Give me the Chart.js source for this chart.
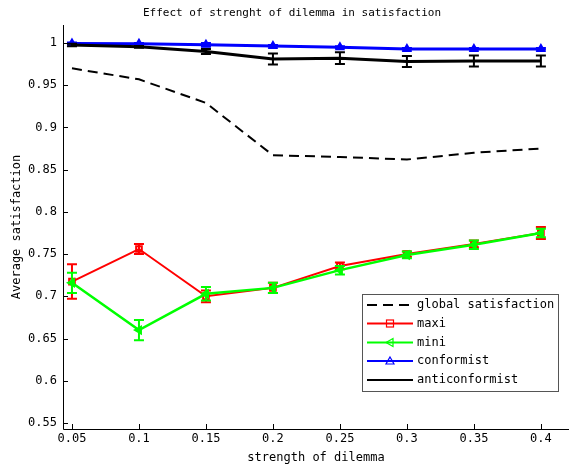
<!DOCTYPE html>
<html>
<head>
<meta charset="utf-8">
<script src="https://cdn.jsdelivr.net/npm/chart.js@4/dist/chart.umd.min.js"></script>
<style>
html,body{margin:0;padding:0;background:#fff;}
canvas{display:block;}
</style>
</head>
<body>
<canvas id="c" width="569" height="466"></canvas>
<script>
const X_VALUES = [0.05, 0.1, 0.15, 0.2, 0.25, 0.3, 0.35, 0.4];
const X_TICKS = [0.05, 0.1, 0.15, 0.2, 0.25, 0.3, 0.35, 0.4];
const Y_TICKS = [0.55, 0.6, 0.65, 0.7, 0.75, 0.8, 0.85, 0.9, 0.95, 1];

const GLOBAL_SAT = [0.970, 0.957, 0.929, 0.867, 0.865, 0.862, 0.870, 0.875];
const MAXI = [0.7175, 0.756, 0.700, 0.710, 0.736, 0.750, 0.762, 0.775];
const MAXI_ERR = [0.0205, 0.006, 0.007, 0.006, 0.004, 0.003, 0.004, 0.007];
const MINI = [0.716, 0.660, 0.703, 0.710, 0.731, 0.749, 0.761, 0.775];
const MINI_ERR = [0.012, 0.012, 0.008, 0.006, 0.005, 0.004, 0.005, 0.005];
const CONFORMIST = [0.9995, 0.999, 0.998, 0.9965, 0.995, 0.993, 0.993, 0.993];
const CONFORMIST_ERR = [0.001, 0.001, 0.002, 0.001, 0.001, 0.001, 0.001, 0.001];
const ANTICONFORMIST = [0.9975, 0.9955, 0.990, 0.981, 0.982, 0.978, 0.9787, 0.9787];
const ANTICONFORMIST_ERR = [0.0015, 0.001, 0.003, 0.0065, 0.007, 0.0065, 0.0065, 0.0065];

const TITLE = 'Effect of strenght of dilemma in satisfaction';
const X_TITLE = 'strength of dilemma';
const Y_TITLE = 'Average satisfaction';

const FONT = '"DejaVu Sans Mono", "Liberation Mono", monospace';

function pts(vals){ return X_VALUES.map((x,i)=>({x:x, y:vals[i]})); }

const datasets = [
  {label:'global satisfaction', data:pts(GLOBAL_SAT), borderColor:'#000', borderWidth:2, borderDash:[10,6], pointRadius:0, order:4, legendMarker:null},
  {label:'maxi', data:pts(MAXI), errors:MAXI_ERR, borderColor:'#ff0000', borderWidth:2, pointStyle:'rect', pointRadius:4, pointBorderWidth:2, pointBackgroundColor:'rgba(0,0,0,0)', pointBorderColor:'#ff0000', order:3, legendMarker:'rect'},
  {label:'mini', data:pts(MINI), errors:MINI_ERR, borderColor:'#00ff00', borderWidth:2.5, pointStyle:'triangle', rotation:-90, pointRadius:4, pointBorderWidth:2, pointBackgroundColor:'#00ff00', pointBorderColor:'#00ff00', order:2, legendMarker:'triangleLeft'},
  {label:'conformist', data:pts(CONFORMIST), errors:CONFORMIST_ERR, borderColor:'#0000ff', borderWidth:3, pointStyle:'triangle', pointRadius:4, pointBorderWidth:2, pointBackgroundColor:'#0000ff', pointBorderColor:'#0000ff', order:1, legendMarker:'triangle'},
  {label:'anticonformist', data:pts(ANTICONFORMIST), errors:ANTICONFORMIST_ERR, borderColor:'#000', borderWidth:3, pointRadius:0, order:0, legendMarker:null}
];

const errorBars = {
  id:'errorBars',
  afterDatasetDraw(chart, args){
    const ds = chart.data.datasets[args.index];
    if(!ds.errors) return;
    const ctx = chart.ctx, xs = chart.scales.x, ys = chart.scales.y;
    ctx.save();
    ctx.strokeStyle = ds.borderColor;
    ctx.lineWidth = 2;
    ds.data.forEach((p,i)=>{
      const e = ds.errors[i];
      const px = xs.getPixelForValue(p.x);
      const y1 = ys.getPixelForValue(p.y - e), y2 = ys.getPixelForValue(p.y + e);
      ctx.beginPath();
      ctx.moveTo(px, y1); ctx.lineTo(px, y2);
      ctx.moveTo(px-5, y1); ctx.lineTo(px+5, y1);
      ctx.moveTo(px-5, y2); ctx.lineTo(px+5, y2);
      ctx.stroke();
    });
    ctx.restore();
  }
};

const decorations = {
  id:'decorations',
  afterDraw(chart){
    const ctx = chart.ctx, xs = chart.scales.x, ys = chart.scales.y, ca = chart.chartArea;
    ctx.save();
    ctx.strokeStyle = '#000'; ctx.lineWidth = 1;
    ctx.beginPath();
    ctx.moveTo(ca.left+0.5, ca.top); ctx.lineTo(ca.left+0.5, ca.bottom+0.5);
    ctx.lineTo(chart.width, ca.bottom+0.5);
    ctx.stroke();
    ctx.beginPath();
    X_TICKS.forEach(v=>{ const px = Math.round(xs.getPixelForValue(v))+0.5; ctx.moveTo(px, ca.bottom); ctx.lineTo(px, ca.bottom-5); });
    Y_TICKS.forEach(v=>{ const py = Math.round(ys.getPixelForValue(v))+0.5; ctx.moveTo(ca.left, py); ctx.lineTo(ca.left+5, py); });
    ctx.stroke();
    ctx.fillStyle = '#000';
    ctx.textAlign = 'center'; ctx.textBaseline = 'middle';
    ctx.font = '11px ' + FONT;
    ctx.fillText(TITLE, 292, 13);
    ctx.font = '12px ' + FONT;
    ctx.fillText(X_TITLE, 316, 458);
    ctx.save();
    ctx.translate(17, (ca.top+ca.bottom)/2);
    ctx.rotate(-Math.PI/2);
    ctx.fillText(Y_TITLE, 0, 0);
    ctx.restore();
    const bx = 362.5, by = 294.5, bw = 196, bh = 97;
    ctx.fillStyle = '#fff';
    ctx.fillRect(bx, by, bw, bh);
    ctx.strokeStyle = '#555'; ctx.lineWidth = 1;
    ctx.strokeRect(bx, by, bw, bh);
    const rows = [305, 323.5, 342.5, 361, 380];
    chart.data.datasets.forEach((ds,i)=>{
      const y = rows[i];
      ctx.save();
      ctx.strokeStyle = ds.borderColor;
      ctx.lineWidth = 2;
      ctx.setLineDash(ds.borderDash || []);
      ctx.beginPath(); ctx.moveTo(367, y); ctx.lineTo(413, y); ctx.stroke();
      ctx.setLineDash([]);
      ctx.lineWidth = 1.2;
      const cx = 390;
      if(ds.legendMarker === 'rect'){
        ctx.strokeRect(cx-3.5, y-3.5, 7, 7);
      } else if(ds.legendMarker === 'triangle'){
        ctx.beginPath(); ctx.moveTo(cx, y-4); ctx.lineTo(cx+4, y+3); ctx.lineTo(cx-4, y+3); ctx.closePath(); ctx.stroke();
      } else if(ds.legendMarker === 'triangleLeft'){
        ctx.beginPath(); ctx.moveTo(cx-4, y); ctx.lineTo(cx+3, y-4); ctx.lineTo(cx+3, y+4); ctx.closePath(); ctx.stroke();
      }
      ctx.restore();
      ctx.fillStyle = '#000';
      ctx.textAlign = 'left'; ctx.textBaseline = 'middle';
      ctx.font = '12px ' + FONT;
      ctx.fillText(ds.label, 417, y);
    });
    ctx.restore();
  }
};

const whiteBg = {
  id:'whiteBg',
  beforeDraw(chart){ const c = chart.ctx; c.save(); c.fillStyle='#fff'; c.fillRect(0,0,chart.width,chart.height); c.restore(); }
};

new Chart(document.getElementById('c'), {
  type:'line',
  data:{datasets:datasets},
  options:{
    responsive:false,
    animation:false,
    devicePixelRatio:1,
    layout:{padding:{top:25, right:0, left:0, bottom:0}},
    plugins:{legend:{display:false}, title:{display:false}, tooltip:{enabled:false}},
    elements:{line:{tension:0}},
    scales:{
      x:{
        type:'linear', min:0.0433, max:0.4165,
        afterFit(s){ s.height = 37; s.paddingLeft = 0; s.paddingRight = 0; },
        afterBuildTicks(s){ s.ticks = X_TICKS.map(v=>({value:v})); },
        grid:{display:false, drawTicks:false},
        border:{display:false},
        ticks:{padding:3, color:'#000', font:{family:FONT, size:12}, maxRotation:0, autoSkip:false,
          callback:(v)=>String(v)}
      },
      y:{
        type:'linear', min:0.5429, max:1.0213,
        afterFit(s){ s.width = 63; s.paddingTop = 0; s.paddingBottom = 0; },
        afterBuildTicks(s){ s.ticks = Y_TICKS.map(v=>({value:v})); },
        grid:{display:false, drawTicks:false},
        border:{display:false},
        ticks:{padding:6, color:'#000', font:{family:FONT, size:12}, autoSkip:false,
          callback:(v)=>String(v)}
      }
    }
  },
  plugins:[whiteBg, errorBars, decorations]
});
</script>
</body>
</html>
